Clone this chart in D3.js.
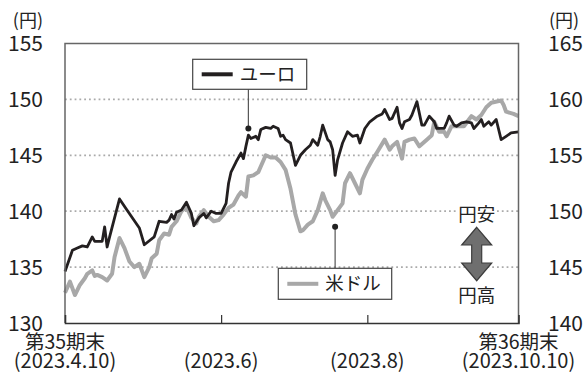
<!DOCTYPE html>
<html><head><meta charset="utf-8">
<script src="https://cdn.jsdelivr.net/npm/d3@7"></script>
<style>
html,body{margin:0;padding:0;background:#fff;}
svg{display:block;font-family:"Noto Sans CJK JP","Noto Sans",sans-serif;}
</style></head>
<body><svg id="c" width="585" height="373"></svg>
<script>
// ---- data (day offset from 2023-04-10, value in yen) ----
const eurDays = [0,3,5,7,9,11,12,15,16,17,18,22,25,30,32,36,38,41,42,43,44,45,47,49,51,52,54,56,57,59,61,63,65,66,67,69,71,72,73,74,75,77,78,79,81,83,84,86,87,88,89,91,93,95,97,99,100,102,103,104,106,107,108,109,110,112,114,116,118,119,121,123,126,128,129,131,132,134,135,136,137,139,140,142,144,145,147,149,150,153,154,155,157,158,160,162,164,165,167,168,169,171,172,174,176,178,180,183];
const eurValues = [134.6,136.5,136.7,136.9,136.8,137.7,137.3,137.3,138.6,136.8,137.7,141.1,140.1,138.5,137.0,137.7,139.1,139.0,139.2,139.7,139.3,139.9,140.1,140.8,139.8,138.7,139.4,139.8,139.4,140.0,139.8,139.8,140.7,142.5,143.5,144.4,145.2,144.7,145.8,146.8,146.5,146.7,146.4,147.3,147.5,147.4,147.6,147.4,146.7,146.8,146.4,146.1,144.1,145.0,145.5,145.9,146.4,145.9,146.7,147.7,146.4,146.2,145.5,143.2,144.6,146.1,147.1,146.7,146.8,146.1,147.4,148.0,148.5,148.7,149.1,148.2,148.3,149.3,147.9,147.4,148.0,148.2,148.6,149.8,147.7,147.7,148.5,148.0,147.4,147.4,147.9,148.5,147.7,147.6,147.9,148.0,147.9,147.4,147.9,148.2,147.6,148.0,147.7,148.2,146.4,146.7,147.0,147.1];
const usdDays = [0,2,4,6,8,9,11,12,13,15,17,19,20,22,24,26,28,30,32,34,35,37,38,40,42,43,45,47,49,51,53,54,56,58,60,62,64,66,68,70,71,73,74,76,78,79,81,83,85,87,89,91,93,95,96,98,100,102,104,105,107,108,110,112,113,115,117,119,120,122,124,126,129,131,132,134,136,137,139,141,143,146,148,149,151,153,154,156,159,161,163,164,166,168,170,172,176,177,178,181,183];
const usdValues = [142.7,143.7,142.5,143.4,144.0,144.4,144.7,144.2,144.3,144.1,143.8,144.4,145.9,147.6,146.7,145.5,145.0,145.3,144.1,145.0,145.8,146.2,147.4,148.0,147.9,148.6,149.1,150.0,150.4,149.4,148.9,149.5,150.1,149.5,149.1,149.2,149.7,150.3,150.6,151.4,151.7,151.3,153.1,153.2,153.5,154.0,155.0,154.8,154.8,154.4,153.7,152.0,149.7,148.2,148.3,148.8,149.1,150.1,151.6,151.0,150.1,149.5,150.1,150.7,152.5,153.4,152.5,151.6,152.8,153.8,154.6,155.3,156.4,155.5,155.8,156.2,154.7,156.2,156.4,156.5,155.8,156.4,156.8,158.0,157.1,157.1,156.7,157.6,157.6,157.6,158.2,158.5,158.2,158.6,159.3,159.7,159.9,159.5,158.9,158.7,158.5];
const leftTicks = [130,135,140,145,150,155];
const rightTicks = [140,145,150,155,160,165];
const gridValues = [135,140,145,150];
const xTickDays = [0,63,122,183];
const xTickTop = ["第35期末","","","第36期末"];
const xTickBottom = ["(2023.4.10)","(2023.6)","(2023.8)","(2023.10.10)"];
const eurName = "ユーロ", usdName = "米ドル";
const eurCallout = {day:74, value:147.4};
const usdCallout = {day:109, value:148.6};

// ---- layout ----
const L=65, R=518.5, T=43.5, B=323;
const FS = 21;
const svg = d3.select("#c");
const x = d3.scaleLinear().domain([0,183]).range([L,R]);
const yL = d3.scaleLinear().domain([130,155]).range([B,T]);
const yR = d3.scaleLinear().domain([140,165]).range([B,T]);

// grid
svg.append("g").selectAll("line").data(gridValues).join("line")
  .attr("x1",L).attr("x2",R).attr("y1",d=>yL(d)).attr("y2",d=>yL(d))
  .attr("stroke","#aaaaaa").attr("stroke-width",1.8).attr("stroke-dasharray","1.8,3");

// lines
const lineL = d3.line().x(d=>x(d[0])).y(d=>yL(d[1])).curve(d3.curveLinear);
const lineR = d3.line().x(d=>x(d[0])).y(d=>yR(d[1])).curve(d3.curveLinear);
svg.append("path").datum(usdDays.map((d,i)=>[d,usdValues[i]]))
  .attr("d",lineR).attr("fill","none").attr("stroke","#a8a8a8").attr("stroke-width",4).attr("stroke-linejoin","round");
svg.append("path").datum(eurDays.map((d,i)=>[d,eurValues[i]]))
  .attr("d",lineL).attr("fill","none").attr("stroke","#231f20").attr("stroke-width",2.8).attr("stroke-linejoin","round");

// frame
svg.append("path").attr("d",`M${L},${B}V${T}H${R}V${B}`).attr("fill","none").attr("stroke","#666").attr("stroke-width",1.5);
// x axis
const xAxis = d3.axisBottom(x).tickValues(xTickDays.slice(1,3)).tickSize(-8).tickFormat("");
const gx = svg.append("g").attr("transform",`translate(0,${B})`).call(xAxis);
gx.select(".domain").attr("stroke","#333").attr("stroke-width",1.6);
gx.selectAll(".tick line").attr("stroke","#333").attr("stroke-width",1.2);

// y tick labels
svg.append("g").selectAll("text").data(leftTicks).join("text")
  .attr("x",43).attr("y",d=>yL(d)).attr("dy","0.36em").attr("text-anchor","end")
  .attr("font-size",FS).attr("fill","#222").text(d=>d);
svg.append("g").selectAll("text").data(rightTicks).join("text")
  .attr("x",548).attr("y",d=>yR(d)).attr("dy","0.36em").attr("text-anchor","start")
  .attr("font-size",FS).attr("fill","#222").text(d=>d);
svg.append("text").attr("x",43).attr("y",21).attr("dy","0.36em").attr("text-anchor","end").attr("font-size",18).attr("fill","#222").text("(円)");
svg.append("text").attr("x",549).attr("y",21).attr("dy","0.36em").attr("text-anchor","start").attr("font-size",18).attr("fill","#222").text("(円)");

// x labels
const xl = svg.append("g");
xTickDays.forEach((d,i)=>{
  if(xTickTop[i]) xl.append("text").attr("x",x(d)).attr("y",349).attr("text-anchor","middle").attr("font-size",19.5).attr("fill","#222").text(xTickTop[i]);
  xl.append("text").attr("x",x(d)).attr("y",368).attr("text-anchor","middle").attr("font-size",20).attr("fill","#222").text(xTickBottom[i]);
});

// callouts
function callout(cx, cy, boxX, boxY, boxW, boxH, color, sw, name){
  const g = svg.append("g");
  g.append("line").attr("x1",cx).attr("x2",cx).attr("y1",cy).attr("y2",boxY < cy ? boxY+boxH : boxY)
    .attr("stroke","#555").attr("stroke-width",1.2);
  g.append("circle").attr("cx",cx).attr("cy",cy).attr("r",3).attr("fill","#222");
  g.append("rect").attr("x",boxX).attr("y",boxY).attr("width",boxW).attr("height",boxH)
    .attr("fill","#fff").attr("stroke","#444").attr("stroke-width",1.2);
  g.append("line").attr("x1",boxX+9).attr("x2",boxX+40).attr("y1",boxY+boxH/2).attr("y2",boxY+boxH/2)
    .attr("stroke",color).attr("stroke-width",sw);
  g.append("text").attr("x",boxX+47).attr("y",boxY+boxH/2).attr("dy","0.36em")
    .attr("font-size",18.5).attr("fill","#222").text(name);
}
callout(x(eurCallout.day), yL(eurCallout.value), 192.7, 59.3, 114, 30, "#231f20", 4, eurName);
callout(x(usdCallout.day), yR(usdCallout.value), 278.3, 268.3, 113.4, 31, "#a8a8a8", 4, usdName);

// arrow annotation
const ax = 476.7;
const ag = svg.append("g");
const yan = yL(140)+3.5, ykou = 295;
ag.append("rect").attr("x",ax-20).attr("y",yan-9).attr("width",40).attr("height",18).attr("fill","#fff");
ag.append("text").attr("x",ax).attr("y",yan).attr("dy","0.36em").attr("text-anchor","middle").attr("font-size",18.5).attr("fill","#222").text("円安");
ag.append("text").attr("x",ax).attr("y",ykou).attr("dy","0.36em").attr("text-anchor","middle").attr("font-size",18.5).attr("fill","#222").text("円高");
const t1=227.3, h1=245, h2=263, t2=280.7, hw=15, sw2=5;
ag.append("path").attr("d",`M${ax},${t1}L${ax+hw},${h1}L${ax+sw2},${h1}L${ax+sw2},${h2}L${ax+hw},${h2}L${ax},${t2}L${ax-hw},${h2}L${ax-sw2},${h2}L${ax-sw2},${h1}L${ax-hw},${h1}Z`)
  .attr("fill","#6f6f6f").attr("stroke","#3c3c3c").attr("stroke-width",1.2).attr("stroke-linejoin","miter");
</script></body></html>
